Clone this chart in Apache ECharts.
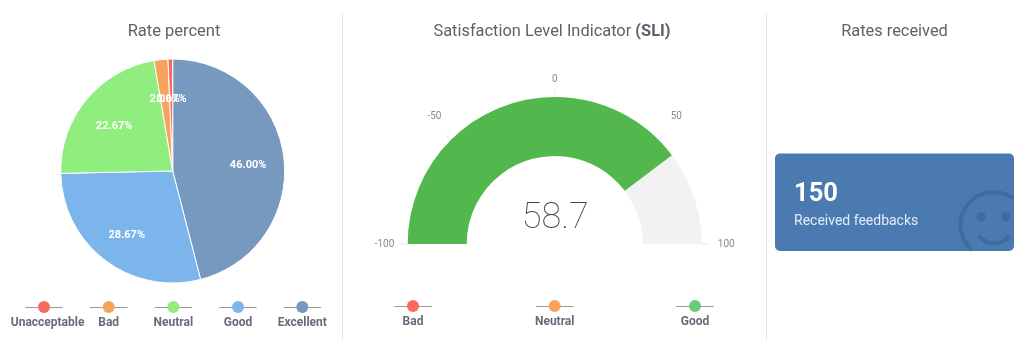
<!DOCTYPE html>
<html>
<head>
<meta charset="utf-8">
<title>Rates dashboard</title>
<style>
  html, body { margin: 0; padding: 0; background: #fff; }
  #main { width: 1024px; height: 353px; }
</style>
</head>
<body>
<div id="main"></div>
<script src="https://cdn.jsdelivr.net/npm/echarts@6/dist/echarts.min.js"></script>
<script>
// pie data, clockwise from 12 o'clock
const rateNames = ['Excellent', 'Good', 'Neutral', 'Bad', 'Unacceptable'];
const rateValues = [46.0, 28.67, 22.67, 2.0, 0.67];
const rateColors = ['#7798BF', '#7CB5EC', '#90EE7E', '#F7A35C', '#F96A60'];

// legend order differs from the slice order
const rateLegendNames = ['Unacceptable', 'Bad', 'Neutral', 'Good', 'Excellent'];
const rateLegendColors = ['#F96A60', '#F7A35C', '#90EE7E', '#7CB5EC', '#7798BF'];
const rateLegendX = [44, 108.7, 173.3, 238, 302.3];
const rateLegendTextShift = [3.6, 0, 0, 0, 0];

// gauge
const sliValue = 58.7;
const sliMin = -100;
const sliMax = 100;
const sliLegendNames = ['Bad', 'Neutral', 'Good'];
const sliLegendColors = ['#F96A60', '#F7A35C', '#6CCB7B'];
const sliLegendX = [413, 554.7, 695];
const sliLegendTextShift = [0, 0, 0];

// card
const receivedCount = '150';
const receivedLabel = 'Received feedbacks';

const FONT = 'Roboto, sans-serif';
const TITLE_COLOR = '#5c616b';
const LEGEND_TEXT = '#666b78';
const CARD_COLOR = '#4A7AB0';
const SMILE_COLOR = '#3F6C9F';

// small line + dot legend with the name underneath
function legendItems(names, colors, xs, shifts, y) {
  const items = [];
  names.forEach((name, i) => {
    items.push({
      type: 'line', silent: true,
      shape: { x1: xs[i] - 18.7, y1: y + 0.5, x2: xs[i] + 18.7, y2: y + 0.5 },
      style: { stroke: '#999', lineWidth: 1 }
    });
    items.push({
      type: 'circle', silent: true, z: 2,
      shape: { cx: xs[i], cy: y, r: 6 },
      style: { fill: colors[i] }
    });
    items.push({
      type: 'text', silent: true,
      x: xs[i] + shifts[i], y: y + 16,
      style: {
        text: name, fill: LEGEND_TEXT, align: 'center', verticalAlign: 'middle',
        font: 'bold 12px ' + FONT
      }
    });
  });
  return items;
}

function divider(x) {
  return {
    type: 'line', silent: true,
    shape: { x1: x, y1: 13, x2: x, y2: 341 },
    style: { stroke: '#e6e6e6', lineWidth: 1 }
  };
}

const deg = Math.PI / 180;
const cardGraphics = [
  {
    type: 'rect', silent: true,
    shape: { x: 775, y: 153.5, width: 239, height: 97.5, r: 5 },
    style: { fill: CARD_COLOR }
  },
  // smiley, its circle cut off at the card edges
  {
    type: 'arc', silent: true, z: 2,
    shape: { cx: 993.5, cy: 225, r: 33, startAngle: 131 * deg, endAngle: 306.5 * deg, clockwise: true },
    style: { stroke: SMILE_COLOR, fill: null, lineWidth: 4 }
  },
  { type: 'circle', silent: true, z: 2, shape: { cx: 981, cy: 216.7, r: 4.7 }, style: { fill: SMILE_COLOR } },
  { type: 'circle', silent: true, z: 2, shape: { cx: 1006, cy: 216.7, r: 4.7 }, style: { fill: SMILE_COLOR } },
  {
    type: 'arc', silent: true, z: 2,
    shape: { cx: 994, cy: 225, r: 18.5, startAngle: 35 * deg, endAngle: 145 * deg, clockwise: true },
    style: { stroke: SMILE_COLOR, fill: null, lineWidth: 4 }
  },
  {
    type: 'text', silent: true, z: 3, x: 794, y: 195,
    style: { text: receivedCount, fill: '#fff', verticalAlign: 'middle', font: 'bold 25.5px ' + FONT }
  },
  {
    type: 'text', silent: true, z: 3, x: 794, y: 221,
    style: { text: receivedLabel, fill: '#e3ebf5', verticalAlign: 'middle', font: '14px ' + FONT }
  }
];

// echarts drops the label of the thinnest slice, so that one is written by hand
const thinSliceLabel = {
  type: 'text', silent: true, z: 100, x: 171.5, y: 99,
  style: {
    text: rateValues[rateValues.length - 1].toFixed(2) + '%',
    fill: '#fff', align: 'center', verticalAlign: 'middle', font: 'bold 11px ' + FONT
  }
};

const chart = echarts.init(document.getElementById('main'), null, { renderer: 'canvas' });

const pieData = rateNames.map((name, i) => ({
  name: name,
  value: rateValues[i],
  itemStyle: { color: rateColors[i] }
}));

chart.setOption({
  animation: false,
  backgroundColor: '#fff',
  title: [
    {
      text: 'Rate percent', left: 169, top: 18.5, textAlign: 'center',
      textStyle: { fontFamily: FONT, fontSize: 16.5, fontWeight: 400, color: TITLE_COLOR }
    },
    {
      text: 'Satisfaction Level Indicator {b|(SLI)}', left: 547, top: 18.5, textAlign: 'center',
      textStyle: {
        fontFamily: FONT, fontSize: 16.4, fontWeight: 400, color: TITLE_COLOR,
        rich: { b: { fontFamily: FONT, fontSize: 16.4, fontWeight: 'bold', color: TITLE_COLOR } }
      }
    },
    {
      text: 'Rates received', left: 889.5, top: 18.5, textAlign: 'center',
      textStyle: { fontFamily: FONT, fontSize: 16.4, fontWeight: 400, color: TITLE_COLOR }
    }
  ],
  series: [
    {
      type: 'pie',
      center: [172.7, 171],
      radius: [0, 112],
      startAngle: 90,
      clockwise: true,
      label: { show: false },
      labelLine: { show: false },
      itemStyle: { borderColor: '#fff', borderWidth: 1 },
      emphasis: { disabled: true },
      data: pieData
    },
    // same values again, see-through, only to push the labels further out than mid-radius
    {
      type: 'pie',
      center: [172.7, 171],
      radius: [34, 112],
      startAngle: 90,
      clockwise: true,
      silent: true,
      avoidLabelOverlap: false,
      z: 3,
      itemStyle: { color: 'transparent', borderWidth: 0 },
      label: {
        show: true,
        position: 'inside',
        color: '#fff',
        fontFamily: FONT,
        fontSize: 11,
        fontWeight: 'bold',
        formatter: p => p.value.toFixed(2) + '%'
      },
      labelLayout: { dy: 4 },
      labelLine: { show: false },
      emphasis: { disabled: true },
      data: rateNames.map((name, i) => ({ name: name, value: rateValues[i] }))
    },
    {
      type: 'gauge',
      center: [554.7, 244],
      radius: 147,
      startAngle: 180,
      endAngle: 0,
      min: sliMin,
      max: sliMax,
      splitNumber: 4,
      pointer: { show: false },
      anchor: { show: false },
      title: { show: false },
      axisLine: { roundCap: false, lineStyle: { width: 59, color: [[1, '#F2F2F2']] } },
      progress: { show: true, width: 59, roundCap: false, itemStyle: { color: '#52B74C' } },
      axisTick: { show: false },
      splitLine: { distance: -67, length: 8, lineStyle: { color: '#E3E8F2', width: 1 } },
      axisLabel: {
        distance: 26,
        align: 'center',
        verticalAlign: 'middle',
        color: '#8a8a8a',
        fontFamily: FONT,
        fontSize: 10,
        formatter: v => (v === 0 ? '{zero|0}' : String(v)),
        rich: { zero: { color: '#8a8a8a', fontFamily: FONT, fontSize: 10, padding: [10, 0, 0, 0] } }
      },
      detail: {
        valueAnimation: false,
        offsetCenter: [0.5, -25],
        color: '#444',
        fontFamily: FONT,
        fontSize: 36,
        fontWeight: 100,
        formatter: v => v.toFixed(1)
      },
      data: [{ value: sliValue }]
    }
  ],
  graphic: {
    elements: [
      divider(342.5),
      divider(766.5),
      thinSliceLabel,
      ...legendItems(rateLegendNames, rateLegendColors, rateLegendX, rateLegendTextShift, 307),
      ...legendItems(sliLegendNames, sliLegendColors, sliLegendX, sliLegendTextShift, 306),
      ...cardGraphics
    ]
  }
});
</script>
</body>
</html>
